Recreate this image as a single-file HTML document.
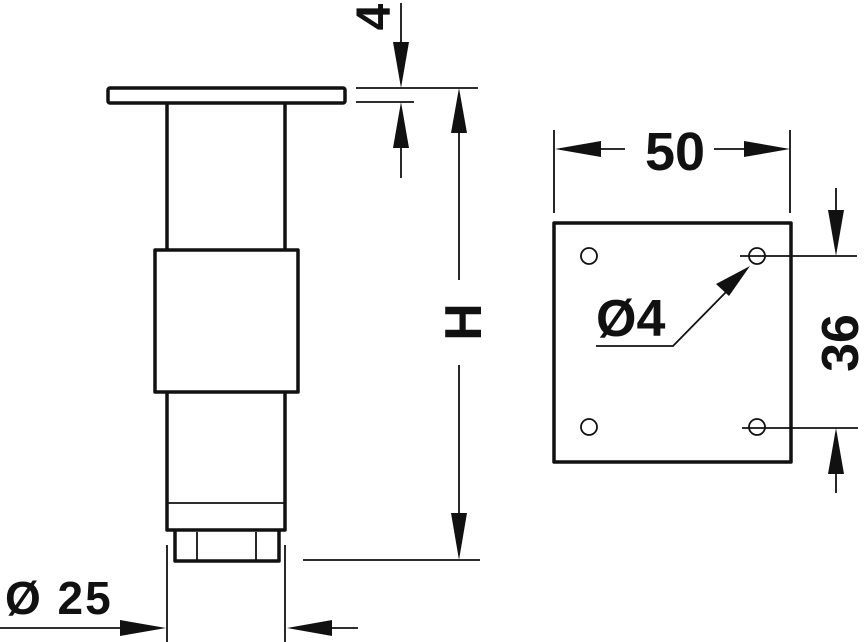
<!DOCTYPE html>
<html><head><style>
html,body{margin:0;padding:0;background:#fff;}
svg{display:block;}
text{font-family:"Liberation Sans",sans-serif;font-weight:bold;fill:#111;}
</style></head><body>
<svg width="867" height="642" viewBox="0 0 867 642" xmlns="http://www.w3.org/2000/svg">
<g fill="none" stroke="#111" stroke-width="3.5" stroke-linejoin="round">
<rect x="108" y="88" width="237" height="15" rx="2"/>
<line x1="167" y1="103" x2="167" y2="250"/>
<line x1="285" y1="103" x2="285" y2="250"/>
<rect x="155" y="250" width="143" height="142"/>
<polyline points="167,392 167,530 285,530 285,392"/>
<polyline points="175,530 175,561 279,561 279,530"/>
<rect x="554" y="223" width="237" height="239"/>
</g>
<g fill="none" stroke="#111" stroke-width="1.8">
<line x1="167" y1="503" x2="285" y2="503"/>
<line x1="197" y1="532" x2="197" y2="560"/>
<line x1="256" y1="532" x2="256" y2="560"/>
<line x1="167" y1="545" x2="167" y2="642"/>
<line x1="285" y1="545" x2="285" y2="642"/>
<line x1="0" y1="628" x2="125" y2="628"/>
<line x1="325" y1="628" x2="358" y2="628"/>
<line x1="356" y1="88" x2="478" y2="88"/>
<line x1="356" y1="102" x2="414" y2="102"/>
<line x1="303" y1="560" x2="480" y2="560"/>
<line x1="459" y1="130" x2="459" y2="280"/>
<line x1="459" y1="365" x2="459" y2="515"/>
<line x1="401" y1="3" x2="401" y2="48"/>
<line x1="401" y1="145" x2="401" y2="178"/>
<line x1="554" y1="130" x2="554" y2="213"/>
<line x1="790" y1="130" x2="790" y2="213"/>
<line x1="560" y1="149" x2="625" y2="149"/>
<line x1="714" y1="149" x2="746" y2="149"/>
<line x1="740" y1="256" x2="857" y2="256"/>
<line x1="742" y1="428" x2="858" y2="428"/>
<line x1="836" y1="188" x2="836" y2="212"/>
<line x1="836" y1="470" x2="836" y2="493"/>
<polyline points="596,346 673,346 728,290"/>
<circle cx="589" cy="256" r="8"/>
<circle cx="757" cy="256" r="8"/>
<circle cx="589" cy="427" r="8"/>
<circle cx="757" cy="427" r="8"/>
</g>
<g fill="#111">
<polygon points="166,628 120,620 120,636"/>
<polygon points="287,628 332,620 332,636"/>
<polygon points="459,88 451,133 467,133"/>
<polygon points="459,560 451,513 467,513"/>
<polygon points="401,88 393,42 409,42"/>
<polygon points="401,102 393,148 409,148"/>
<polygon points="555,149 601,141 601,157"/>
<polygon points="790,149 744,141 744,157"/>
<polygon points="836,256 828,210 844,210"/>
<polygon points="836,428 828,474 844,474"/>
<polygon points="750,266 716,284 729,296"/>
</g>
<text x="5" y="614" font-size="46" letter-spacing="2">Ø 25</text>
<text x="675" y="170" font-size="54" text-anchor="middle">50</text>
<text x="596" y="336" font-size="52">Ø4</text>
<text transform="translate(481,322) rotate(-90)" text-anchor="middle" font-size="52">H</text>
<text transform="translate(390,17) rotate(-90)" text-anchor="middle" font-size="48">4</text>
<text transform="translate(858,343) rotate(-90)" text-anchor="middle" font-size="52">36</text>
</svg>
</body></html>
